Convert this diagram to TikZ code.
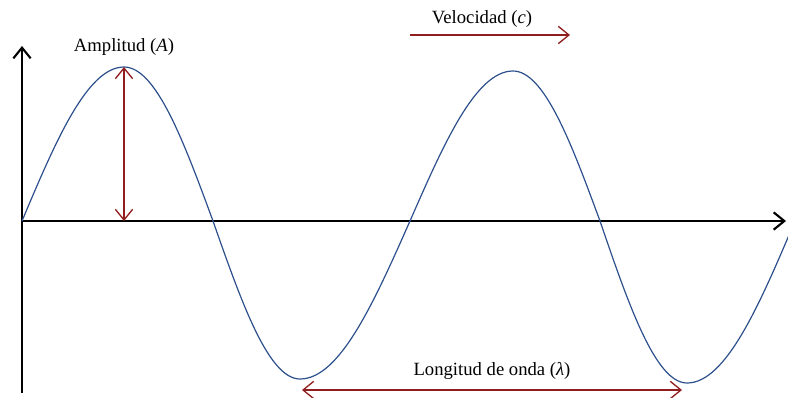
\documentclass[tikz,border=0pt]{standalone}
\usepackage{fontspec}
\setmainfont{Liberation Serif}
\usetikzlibrary{arrows.meta, positioning}
\definecolor{waveblue}{RGB}{45,80,140}
\definecolor{markred}{RGB}{145,30,30}

\begin{document}
\begin{tikzpicture}[
      x = 0.75pt, y = -0.75pt,
      font = \fontsize{14}{16}\selectfont,
      barb/.tip = {Straight Barb[length = 8pt, width = 13pt, line width = 1pt]},
      axis/.style={
        draw = black,
        line width = 2pt,
        -{Straight Barb[length = 8pt, width = 13pt, line width = 1.6pt]},
      },
      wave/.style={draw = waveblue, line width = 0.9pt},
      measure/.style={draw = markred, line width = 0.9pt},
      lbl/.style={inner sep = 1pt},
    ]
    \useasboundingbox (0,0) rectangle (788,397);
    \coordinate (O) at (22,221);
    \coordinate (ytop) at (22,46);
    \coordinate (ybot) at (22,393);
    \coordinate (xend) at (786,221);
    \coordinate (crest) at (124,67);
    \coordinate (foot) at (124,221);
    \coordinate (vstart) at (410,35);
    \coordinate (vend) at (570,35);
    \coordinate (lstart) at (302,390);
    \coordinate (lend) at (682,390);
    % axes
    \draw[axis] (ybot) -- (ytop);
    \draw[axis] (O) -- (xend);
    % wave
    \begin{scope}
      \clip (0,0) rectangle (788,397);
      \draw[wave] (O) sin (crest) cos (213,221) sin (300,379) cos (410,221)
        sin (513,71) cos (600,221) sin (687,383) cos (795,221);
    \end{scope}
    % amplitude, speed, wavelength
    \draw[measure, barb-barb] (foot) -- (crest);
    \node[lbl, above = 7.5pt of crest] (amp) {Amplitud (\textit{A})};
    \draw[measure, -barb] (vstart) -- node[lbl, above = 4.5pt, pos = 0.45] (vel)
      {Velocidad (\textit{c})} (vend);
    \draw[measure, barb-barb] (lstart) -- node[lbl, above = 6.5pt] (lam)
      {Longitud de onda (\textit{λ})} (lend);
  \end{tikzpicture}
\end{document}
